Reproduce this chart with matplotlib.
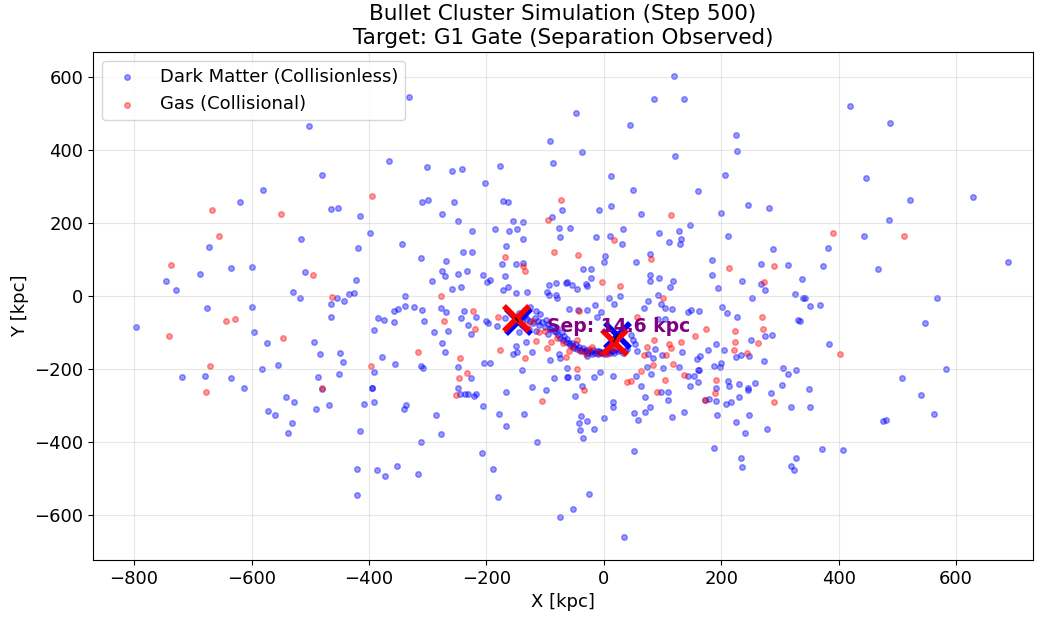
import matplotlib
matplotlib.use("Agg")
import matplotlib.pyplot as plt
import numpy as np

# dark matter particles (x, y) in kpc
dm_halo = [
    (-502, 466), (-480, 331), (-580, 290), (-620, 256), (-465, 238),
    (-332, 546), (-91, 423), (-366, 370), (-301, 353), (-258, 342), (-241, 348), (-176, 356),
    (-87, 364), (-202, 310), (-310, 258), (-299, 264), (-256, 258), (-171, 260), (-164, 257),
    (-71, 234), (-88, 215), (-154, 205), (-137, 203), (-248, 205), (-275, 223), (-416, 219), (-453, 242),
    (119, 603), (85, 539), (137, 538), (-47, 501), (44, 468), (225, 440), (227, 398), (-38, 395),
    (122, 383), (12, 329), (206, 332), (49, 289), (161, 288), (-9, 235), (12, 245), (64, 224),
    (200, 227), (245, 248), (282, 240),
    (420, 520), (487, 474), (446, 324), (522, 263), (629, 272), (486, 207),
    (-672, 133), (-516, 155), (-688, 61), (-635, 77), (-600, 78), (-745, 40), (-728, 16), (-509, 66),
    (-529, 10), (-518, -5), (-464, -23), (-465, -59), (-676, -32), (-600, -29), (-797, -84),
    (-595, -100), (-574, -130), (-494, -127), (-483, -160), (-582, -199), (-555, -188), (-718, -222),
    (-679, -218), (-635, -225), (-486, -222), (-613, -251), (-480, -254),
    (-542, -278), (-528, -290), (-572, -315), (-560, -327), (-490, -309), (-468, -300), (-531, -349), (-538, -376),
    (-399, 173), (-418, 131), (-343, 142), (-225, 179), (-185, 184), (-162, 178), (-148, 184), (-77, 187),
    (-74, 160), (-138, 156), (-167, 137), (-312, 104), (-239, 121), (-224, 121), (-269, 96), (-173, 88),
    (-150, 88), (-137, 91), (-275, 69), (-271, 55), (-248, 61), (-233, 67), (-206, 58), (-194, 44),
    (-199, 37), (-169, 55), (-293, 40), (-422, 44), (-259, 19), (-244, 24), (-172, 16), (-164, 24),
    (-150, 9), (-131, 11), (-97, 12), (-94, 3), (-81, 3), (-82, 35), (-93, 30), (-64, 36), (-80, -6),
    (-455, -6), (-442, -14), (-434, 5), (-426, 9), (-339, 0), (-357, -41), (-351, -36), (-339, -27),
    (-324, -30), (-310, -38), (-277, -34), (-268, -44), (-238, -41), (-218, -58), (-244, -60),
    (-384, -61), (-374, -67), (-357, -72), (-307, -69), (-231, -79), (-227, -104), (-266, -97),
    (-290, -99), (-391, -92), (-200, -68), (-198, -74), (-182, -83), (-169, -61), (-449, -155),
    (-445, -180), (-378, -166), (-391, -207), (-451, -215), (-356, -187), (-275, -130), (-270, -153),
    (-312, -191), (-308, -198), (-249, -194), (-227, -224), (-204, -185), (-194, -184), (-248, -251),
    (-395, -251), (-150, -136), (-154, -159), (-148, -153), (-139, -204), (-123, -250), (-85, -226),
    (-91, -176), (-123, -153), (-133, -126), (-77, -159), (-74, -169), (-63, -221), (-145, -99), (-60, -35),
    (-57, 187), (-14, 161), (10, 163), (33, 183), (31, 143), (94, 172), (111, 147), (128, 177),
    (132, 156), (129, 143), (146, 194), (212, 163), (288, 128), (2, 110), (1, 94), (79, 115), (54, 94),
    (184, 99), (268, 87), (313, 84), (-36, 75), (-22, 75), (-22, 50), (78, 58), (79, 42), (94, 48),
    (118, 41), (112, 25), (185, 58), (194, 21), (235, 40), (267, 34), (274, 16), (337, 47), (325, 5),
    (340, -7), (-62, 38), (-54, 30), (-45, 20), (-31, 32), (-29, 26), (27, 0), (8, -7), (17, -22),
    (76, -13), (92, 2), (98, -22), (104, -33), (116, -36), (69, -33), (92, -62), (104, -63),
    (-44, -38), (-28, -38), (-15, -24), (-5, -44), (-11, -58), (144, -44), (149, -39), (162, -41),
    (202, -30), (209, -47), (227, -59), (253, -5), (274, -110), (286, -108), (331, -67), (250, -121),
    (205, -148), (191, -132), (178, -147), (225, -168), (233, -161), (248, -165), (273, -179),
    (164, -165), (159, -174), (162, -202), (200, -185), (198, -194), (187, -192), (133, -153),
    (99, -162), (100, -196), (88, -145), (75, -160), (84, -170), (73, -194), (80, -215), (56, -151),
    (53, -132), (50, -121), (47, -106), (15, -219), (-6, -208), (-17, -221), (64, -248), (55, -220),
    (128, -194), (143, -219), (153, -218), (161, -203), (161, -237), (147, -247), (-37, -248),
    (-45, -221), (-61, -221), (-62, -198), (-28, -165), (191, -252), (211, -233), (213, -246),
    (231, -242), (245, -252), (257, -238), (305, -196), (313, -214), (327, -203), (303, -243),
    (443, 163), (382, 131), (373, 82), (467, 74), (689, 92), (343, -7), (351, -27), (368, -25),
    (567, -5), (547, -74), (334, -68), (384, -132), (583, -201), (508, -226), (349, -255),
    (-408, -295), (-392, -290), (-394, -252), (-415, -370), (-340, -310), (-337, -299), (-285, -326),
    (-278, -377), (-312, -401), (-245, -269), (-237, -268), (-231, -269), (-221, -275), (-218, -268),
    (-205, -302), (-166, -263), (-99, -258), (-179, -323), (-136, -324), (-166, -357), (-114, -399),
    (-207, -429), (-421, -475), (-387, -477), (-372, -494), (-353, -467), (-317, -487), (-421, -545),
    (-188, -475), (-180, -551), (-74, -606),
    (-49, -275), (-39, -329), (-43, -349), (-28, -343), (-40, -368), (-36, -388), (-17, -364),
    (1, -335), (15, -290), (16, -303), (70, -277), (52, -320), (59, -341), (70, -317), (78, -305),
    (97, -264), (110, -264), (110, -286), (116, -331), (136, -317), (172, -286), (179, -283),
    (191, -289), (193, -325), (208, -295), (216, -290), (230, -277), (245, -257), (284, -266),
    (319, -303), (225, -346), (248, -325), (240, -376), (278, -364), (52, -424), (187, -417),
    (233, -445), (236, -468), (328, -443), (319, -465), (324, -477), (-26, -541), (-52, -583), (34, -659),
    (351, -304), (540, -270), (563, -324), (476, -342), (480, -341), (371, -418), (408, -422),
]

# dense arc of dark matter between the two cluster cores
dm_core = [
    (-135, -55), (-130, -62), (-125, -70), (-120, -75), (-118, -60), (-112, -68), (-110, -80),
    (-105, -72), (-100, -85), (-98, -65), (-95, -78), (-92, -90), (-88, -82), (-85, -95), (-82, -100),
    (-80, -88), (-78, -108), (-75, -115), (-72, -100), (-70, -120), (-68, -110), (-65, -125),
    (-62, -118), (-60, -130), (-58, -135), (-55, -128), (-52, -138), (-50, -142), (-48, -132),
    (-45, -145), (-42, -140), (-40, -148), (-38, -150), (-35, -143), (-32, -152), (-30, -147),
    (-28, -155), (-25, -150), (-22, -153), (-20, -158), (-18, -148), (-15, -155), (-12, -152),
    (-10, -160), (-8, -150), (-7, -153), (-5, -156), (-2, -153), (0, -158), (3, -150), (5, -155),
    (8, -148), (10, -157), (12, -152), (15, -150), (18, -155), (20, -145), (24, -152), (28, -148),
    (32, -155), (36, -150), (40, -145), (-145, -48), (-140, -80), (-128, -90), (-115, -95),
    (-108, -50), (-95, -105), (-150, -60), (-140, -68), (-135, -38), (-125, -30), (-115, -40),
]

gas_pts = [
    (-667, 235), (-550, 224), (-394, 274), (-73, 262), (-95, 207), (115, 222),
    (-655, 163), (-737, 85), (-496, 58), (-463, -2), (-644, -68), (-628, -64), (-740, -109),
    (-547, -114), (-671, -193), (-678, -263), (-480, -252),
    (-169, 106), (-85, 119), (-137, 82), (-135, 67), (-278, 1), (-223, -42), (-273, -68),
    (-220, -90), (-181, -58), (-396, -191), (-317, -153), (-245, -171), (-233, -210), (-246, -225),
    (-176, -148), (-135, -170), (-96, -142), (-115, -124), (-64, -167),
    (17, 153), (-44, 113), (81, 101), (289, 81), (214, 77), (273, 37), (-3, 37), (27, 27),
    (101, -7), (57, -58), (-43, -41), (269, -58), (223, -95), (271, -90), (174, -91), (155, -111),
    (223, -125), (263, -130), (221, -147), (244, -156), (131, -125), (111, -132), (115, -142),
    (106, -161), (118, -187), (85, -121), (74, -140), (68, -162), (83, -190), (63, -205),
    (39, -237), (47, -234), (136, -217), (104, -231), (-45, -199), (191, -231),
    (390, 173), (512, 165), (403, -159), (-251, -270), (-106, -287),
    (-34, -258), (90, -264), (172, -286), (189, -266), (290, -290),
    (-120, -70), (-100, -95), (-80, -115), (-70, -130), (-55, -140), (-40, -150), (-25, -145),
    (-10, -155), (5, -160), (-90, -125), (-60, -150), (-30, -160), (15, -145), (-110, -100),
    (-130, -80), (-45, -120), (-20, -140),
]

# centres of mass: [left cluster, right cluster]
dm_cx = [-146, 23]
dm_cy = [-70, -107]
gas_cx = [-150, 17]
gas_cy = [-61, -125]
sep_kpc = 14.6

dm = np.array(dm_halo + dm_core)
gas = np.array(gas_pts)

fig = plt.figure(figsize=(10.46, 6.18), dpi=100)
ax = fig.add_axes([0.0889, 0.0939, 0.8987, 0.822])

ax.scatter(dm[:, 0], dm[:, 1], s=16, c="blue", alpha=0.4, label="Dark Matter (Collisionless)")
ax.scatter(gas[:, 0], gas[:, 1], s=16, c="red", alpha=0.4, label="Gas (Collisional)")

ax.plot(dm_cx, dm_cy, "bx", markersize=18, markeredgewidth=4, linestyle="none")
ax.plot(gas_cx, gas_cy, "rx", markersize=18, markeredgewidth=4, linestyle="none")
for i in range(2):
    ax.plot([dm_cx[i], gas_cx[i]], [dm_cy[i], gas_cy[i]], "k-", linewidth=1)

ax.text(-97, -85, f"Sep: {sep_kpc:.1f} kpc", color="purple", fontsize=13.5,
        fontweight="bold", va="center")

ax.set_xlim(-870, 731)
ax.set_ylim(-723, 668)
ax.set_title("Bullet Cluster Simulation (Step 500)\nTarget: G1 Gate (Separation Observed)", fontsize=15.5)
ax.set_xlabel("X [kpc]", fontsize=13)
ax.set_ylabel("Y [kpc]", fontsize=13)
ax.tick_params(labelsize=13)
ax.grid(True, alpha=0.3)
ax.legend(loc="upper left", fontsize=13)

fig.savefig("out.png", dpi=100)
